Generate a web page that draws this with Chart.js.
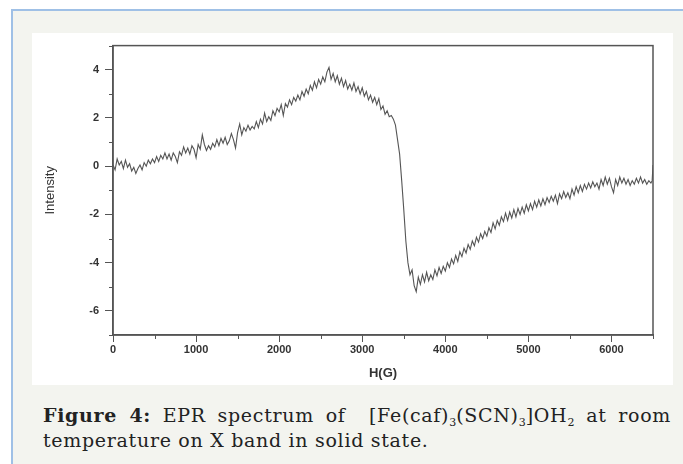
<!DOCTYPE html>
<html>
<head>
<meta charset="utf-8">
<script src="https://cdn.jsdelivr.net/npm/chart.js@4.4.1/dist/chart.umd.min.js"></script>
<style>
  html, body { margin: 0; padding: 0; background: #fff; }
  body { width: 683px; height: 464px; position: relative; overflow: hidden; }
  .panel {
    position: absolute; left: 11px; top: 9px; right: -2px; bottom: -2px;
    background: #f3f4ef;
    border-top: 2px solid #9fc0e6; border-left: 2px solid #9fc0e6;
  }
  .figure {
    position: absolute; left: 32px; top: 33px; width: 641px; height: 352px;
    background: #fff;
  }
  #epr { position: absolute; left: 0; top: 0; }
  .caption {
    position: absolute; left: 43px; width: 628px; top: 403px;
    font-family: "DejaVu Serif", serif; font-size: 19px; letter-spacing: 0.7px; color: #222;
    line-height: 25px;
  }
  .caption .l1 { text-align: justify; text-align-last: justify; white-space: nowrap; }
  .caption b { font-weight: bold; }
  .caption sub { font-size: 11px; line-height: 0; vertical-align: -4px; letter-spacing: 0; }
</style>
</head>
<body>
<div class="panel"></div>
<div class="figure"><canvas id="epr" width="641" height="352"></canvas></div>
<div class="caption">
  <div class="l1"><b>Figure 4:</b> EPR spectrum of &nbsp;[Fe(caf)<sub>3</sub>(SCN)<sub>3</sub>]OH<sub>2</sub> at room</div>
  <div>temperature on X band in solid state.</div>
</div>
<script>
// Magnetic field (G), one reading every 25 G
const fieldG = [
  0, 25, 50, 75, 100, 125, 150, 175, 200, 225, 250, 275, 300, 325, 350, 375, 400, 425, 450, 475,
  500, 525, 550, 575, 600, 625, 650, 675, 700, 725, 750, 775, 800, 825, 850, 875, 900, 925, 950, 975,
  1000, 1025, 1050, 1075, 1100, 1125, 1150, 1175, 1200, 1225, 1250, 1275, 1300, 1325, 1350, 1375, 1400, 1425, 1450, 1475,
  1500, 1525, 1550, 1575, 1600, 1625, 1650, 1675, 1700, 1725, 1750, 1775, 1800, 1825, 1850, 1875, 1900, 1925, 1950, 1975,
  2000, 2025, 2050, 2075, 2100, 2125, 2150, 2175, 2200, 2225, 2250, 2275, 2300, 2325, 2350, 2375, 2400, 2425, 2450, 2475,
  2500, 2525, 2550, 2575, 2600, 2625, 2650, 2675, 2700, 2725, 2750, 2775, 2800, 2825, 2850, 2875, 2900, 2925, 2950, 2975,
  3000, 3025, 3050, 3075, 3100, 3125, 3150, 3175, 3200, 3225, 3250, 3275, 3300, 3325, 3350, 3375, 3400, 3425, 3450, 3475,
  3500, 3525, 3550, 3575, 3600, 3625, 3650, 3675, 3700, 3725, 3750, 3775, 3800, 3825, 3850, 3875, 3900, 3925, 3950, 3975,
  4000, 4025, 4050, 4075, 4100, 4125, 4150, 4175, 4200, 4225, 4250, 4275, 4300, 4325, 4350, 4375, 4400, 4425, 4450, 4475,
  4500, 4525, 4550, 4575, 4600, 4625, 4650, 4675, 4700, 4725, 4750, 4775, 4800, 4825, 4850, 4875, 4900, 4925, 4950, 4975,
  5000, 5025, 5050, 5075, 5100, 5125, 5150, 5175, 5200, 5225, 5250, 5275, 5300, 5325, 5350, 5375, 5400, 5425, 5450, 5475,
  5500, 5525, 5550, 5575, 5600, 5625, 5650, 5675, 5700, 5725, 5750, 5775, 5800, 5825, 5850, 5875, 5900, 5925, 5950, 5975,
  6000, 6025, 6050, 6075, 6100, 6125, 6150, 6175, 6200, 6225, 6250, 6275, 6300, 6325, 6350, 6375, 6400, 6425, 6450, 6475, 6490, 6500
];

// Intensity
const intensity = [
  0.05, -0.15, 0.3, 0.05, 0.2, -0.1, 0.25, -0.05, 0.1, -0.2, -0.05, -0.3, -0.1, 0.05, -0.15, 0.15, 0.0, 0.25, 0.1, 0.3,
  0.15, 0.4, 0.2, 0.45, 0.3, 0.55, 0.3, 0.5, 0.25, 0.55, 0.4, 0.15, 0.6, 0.45, 0.8, 0.55, 0.75, 0.5, 0.85, 0.7,
  0.35, 0.9, 0.7, 1.3, 0.9, 0.65, 0.85, 0.7, 0.95, 0.8, 1.1, 0.85, 1.15, 0.95, 1.2, 0.9, 1.05, 1.35, 1.1, 0.75,
  1.4, 1.75, 1.3, 1.6, 1.45, 1.7, 1.5, 1.65, 1.55, 1.85, 1.6, 1.95, 1.75, 2.2, 1.85, 2.05, 1.9, 2.3, 2.1, 2.4,
  2.25, 2.55, 2.1, 2.6, 2.45, 2.75, 2.55, 2.85, 2.7, 2.95, 2.75, 3.1, 2.9, 3.2, 3.0, 3.35, 3.15, 3.5, 3.25, 3.6,
  3.4, 3.7, 3.5, 3.9, 4.1, 3.6, 3.85, 3.5, 3.75, 3.4, 3.65, 3.3, 3.55, 3.2, 3.4, 3.15, 3.45, 3.1, 3.3, 3.0,
  3.25, 2.9, 3.1, 2.75, 2.95, 2.65, 2.85, 2.55, 2.8, 2.35, 2.5, 2.15, 2.3, 2.05, 2.1, 1.95, 1.7, 1.1, 0.5, -0.6,
  -1.8, -3.1, -4.0, -4.5, -4.3, -4.95, -5.2, -4.6, -4.9, -4.5, -4.8, -4.4, -4.75, -4.5, -4.7, -4.3, -4.55, -4.2, -4.45, -4.15,
  -4.35, -4.0, -4.2, -3.85, -4.05, -3.7, -3.95, -3.55, -3.75, -3.4, -3.6, -3.25, -3.45, -3.1, -3.3, -2.95, -3.15, -2.8, -3.0, -2.7,
  -2.9, -2.55, -2.75, -2.35, -2.6, -2.25, -2.45, -2.1, -2.3, -1.95, -2.25, -1.9, -2.15, -1.8, -2.1, -1.75, -2.0, -1.7, -1.95, -1.6,
  -1.85, -1.55, -1.8, -1.45, -1.7, -1.4, -1.65, -1.35, -1.6, -1.3, -1.5, -1.25, -1.45, -1.2, -1.55, -1.15, -1.35, -1.05, -1.3, -1.1,
  -1.35, -0.95, -1.2, -0.85, -1.1, -0.8, -1.05, -0.75, -0.95, -0.7, -0.9, -0.65, -0.85, -0.7, -0.95, -0.55, -0.8, -0.45, -0.75, -0.5,
  -0.85, -1.1, -0.55, -0.8, -0.45, -0.7, -0.5, -0.75, -0.55, -0.8, -0.6, -0.75, -0.5, -0.7, -0.45, -0.7, -0.55, -0.75, -0.6, -0.7, -0.6, 0.05
];

// Axis ranges and labelled ticks
const xRange = [0, 6500];
const yRange = [-7, 5];
const xLabelled = [0, 1000, 2000, 3000, 4000, 5000, 6000];
const yLabelled = [-6, -4, -2, 0, 2, 4];

const axisColor = '#555';
const tickFont = { family: 'Liberation Sans, Arial, sans-serif', size: 11, weight: 'bold' };

// frame round the plot + short minor ticks
const framePlugin = {
  id: 'frame',
  afterDraw(chart) {
    const { ctx, chartArea: a, scales } = chart;
    ctx.save();
    ctx.strokeStyle = axisColor;
    ctx.lineWidth = 1.5;
    ctx.strokeRect(a.left, a.top, a.right - a.left, a.bottom - a.top);
    ctx.lineWidth = 1;
    scales.x.ticks.forEach(t => {
      if (xLabelled.includes(t.value)) return;
      const px = Math.round(scales.x.getPixelForValue(t.value)) + 0.5;
      ctx.beginPath(); ctx.moveTo(px, a.bottom); ctx.lineTo(px, a.bottom + 4); ctx.stroke();
    });
    scales.y.ticks.forEach(t => {
      if (yLabelled.includes(t.value)) return;
      const py = Math.round(scales.y.getPixelForValue(t.value)) + 0.5;
      ctx.beginPath(); ctx.moveTo(a.left - 4, py); ctx.lineTo(a.left, py); ctx.stroke();
    });
    ctx.restore();
  }
};

new Chart(document.getElementById('epr'), {
  type: 'line',
  data: {
    datasets: [{
      data: fieldG.map((x, i) => ({ x, y: intensity[i] })),
      borderColor: '#555',
      borderWidth: 1.1,
      pointRadius: 0,
      tension: 0,
      fill: false
    }]
  },
  options: {
    responsive: false,
    animation: false,
    devicePixelRatio: 1,
    layout: { padding: { top: 10, right: 20, left: 0, bottom: 0 } },
    plugins: { legend: { display: false }, tooltip: { enabled: false } },
    scales: {
      x: {
        type: 'linear',
        min: xRange[0], max: xRange[1],
        afterFit: s => { s.height = 50; },
        ticks: {
          stepSize: 500, autoSkip: false, maxRotation: 0, padding: 1,
          color: '#333', font: tickFont,
          callback: v => xLabelled.includes(v) ? v : ''
        },
        grid: {
          drawOnChartArea: false, drawTicks: true, tickLength: 7, tickWidth: 1,
          tickColor: c => (c.tick && xLabelled.includes(c.tick.value)) ? axisColor : 'transparent'
        },
        border: { color: axisColor, width: 1.5 },
        title: {
          display: true, text: 'H(G)', color: '#333',
          font: { family: 'Liberation Sans, Arial, sans-serif', size: 13, weight: 'bold' },
          padding: { top: 2, bottom: 4 }
        }
      },
      y: {
        min: yRange[0], max: yRange[1],
        afterFit: s => { s.width = 81; },
        ticks: {
          stepSize: 1, autoSkip: false, padding: 6,
          color: '#333', font: tickFont,
          callback: v => yLabelled.includes(v) ? v : ''
        },
        grid: {
          drawOnChartArea: false, drawTicks: true, tickLength: 8, tickWidth: 1,
          tickColor: c => (c.tick && yLabelled.includes(c.tick.value)) ? axisColor : 'transparent'
        },
        border: { color: axisColor, width: 1.5 },
        title: {
          display: true, text: 'Intensity', color: '#333',
          font: { family: 'Liberation Sans Narrow, Arial Narrow, sans-serif', size: 13 },
          padding: { top: 11, bottom: 0 }
        }
      }
    }
  },
  plugins: [framePlugin]
});
</script>
</body>
</html>
